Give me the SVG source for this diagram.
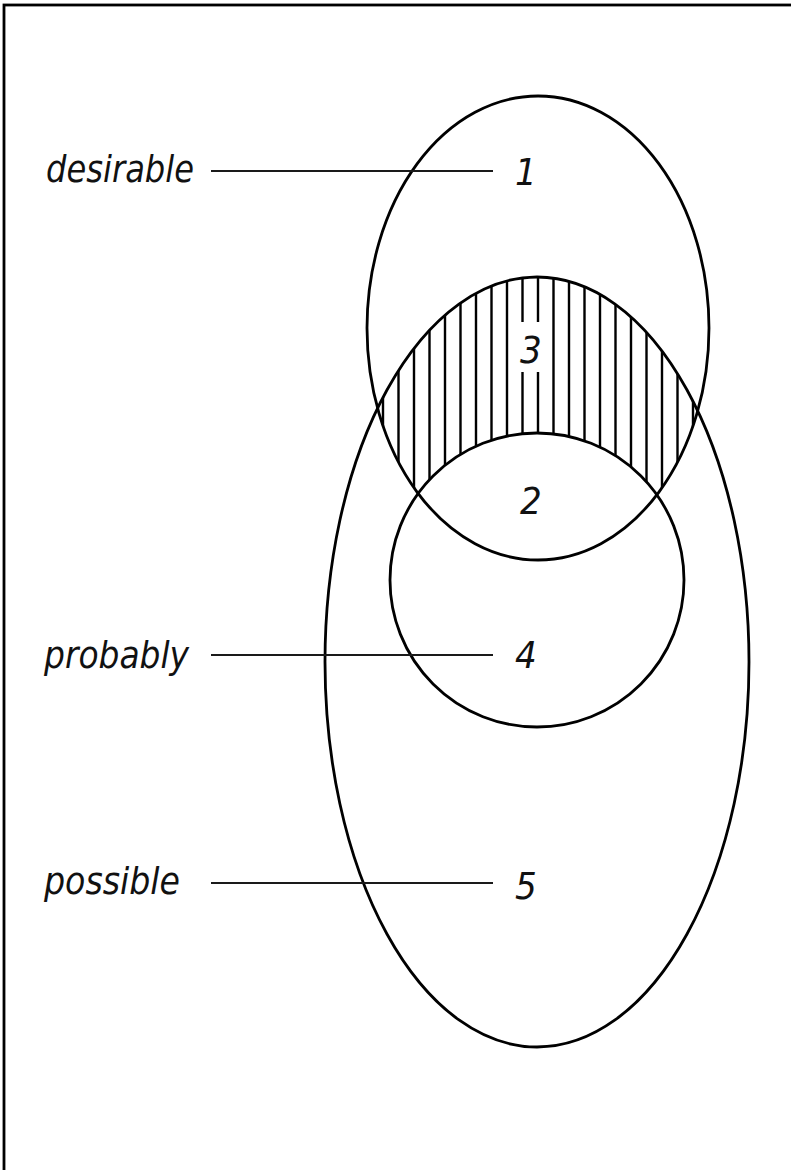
<svg xmlns="http://www.w3.org/2000/svg" width="791" height="1170" viewBox="0 0 791 1170">
<style>
.o{fill:none;stroke:#000;stroke-width:2.8}
.l{stroke:#1a1a1a;stroke-width:2}
.h{stroke:#000;stroke-width:2.4}
.t{font-family:"DejaVu Sans Condensed","DejaVu Sans",sans-serif;font-style:italic;font-size:38px;fill:#111}
</style>
<defs>
<clipPath id="cTop"><ellipse cx="538" cy="328" rx="171" ry="232"/></clipPath>
<clipPath id="cBig"><ellipse cx="537" cy="662" rx="212" ry="385"/></clipPath>
<mask id="mHole">
<rect x="0" y="0" width="791" height="1170" fill="#fff"/>
<circle cx="537" cy="580" r="147" fill="#000"/>
<rect x="515" y="322" width="32" height="50" fill="#000"/>
</mask>
</defs>
<rect x="4" y="5" width="800" height="1180" fill="#fff" stroke="#000" stroke-width="2.8"/>
<g id="hatch" clip-path="url(#cTop)">
<g clip-path="url(#cBig)">
<g mask="url(#mHole)" class="h">
<path d="M383 250V600M398.5 250V600M414 250V600M429.5 250V600M445 250V600M460.5 250V600M476 250V600M491.5 250V600M507 250V600M522.5 250V600M538 250V600M553.5 250V600M569 250V600M584.5 250V600M600 250V600M615.5 250V600M631 250V600M646.5 250V600M662 250V600M677.5 250V600M693 250V600M708.5 250V600"/>
</g>
</g>
</g>
<g id="desirable-set"><ellipse class="o" cx="538" cy="328" rx="171" ry="232"/></g>
<g id="possible-set"><ellipse class="o" cx="537" cy="662" rx="212" ry="385"/></g>
<g id="probably-set"><circle class="o" cx="537" cy="580" r="147"/></g>
<g id="connectors">
<line class="l" x1="211" y1="171" x2="493" y2="171"/>
<line class="l" x1="211" y1="655" x2="493" y2="655"/>
<line class="l" x1="211" y1="883" x2="493" y2="883"/>
</g>
<g id="labels">
<text class="t" x="46" y="182" textLength="148" lengthAdjust="spacingAndGlyphs">desirable</text>
<text class="t" x="44" y="668" textLength="145" lengthAdjust="spacingAndGlyphs">probably</text>
<text class="t" x="44" y="894" textLength="136" lengthAdjust="spacingAndGlyphs">possible</text>
<text class="t" x="515" y="185">1</text>
<text class="t" x="515" y="668">4</text>
<text class="t" x="515" y="899">5</text>
<text class="t" x="520" y="363">3</text>
<text class="t" x="520" y="514">2</text>
</g>
</svg>
